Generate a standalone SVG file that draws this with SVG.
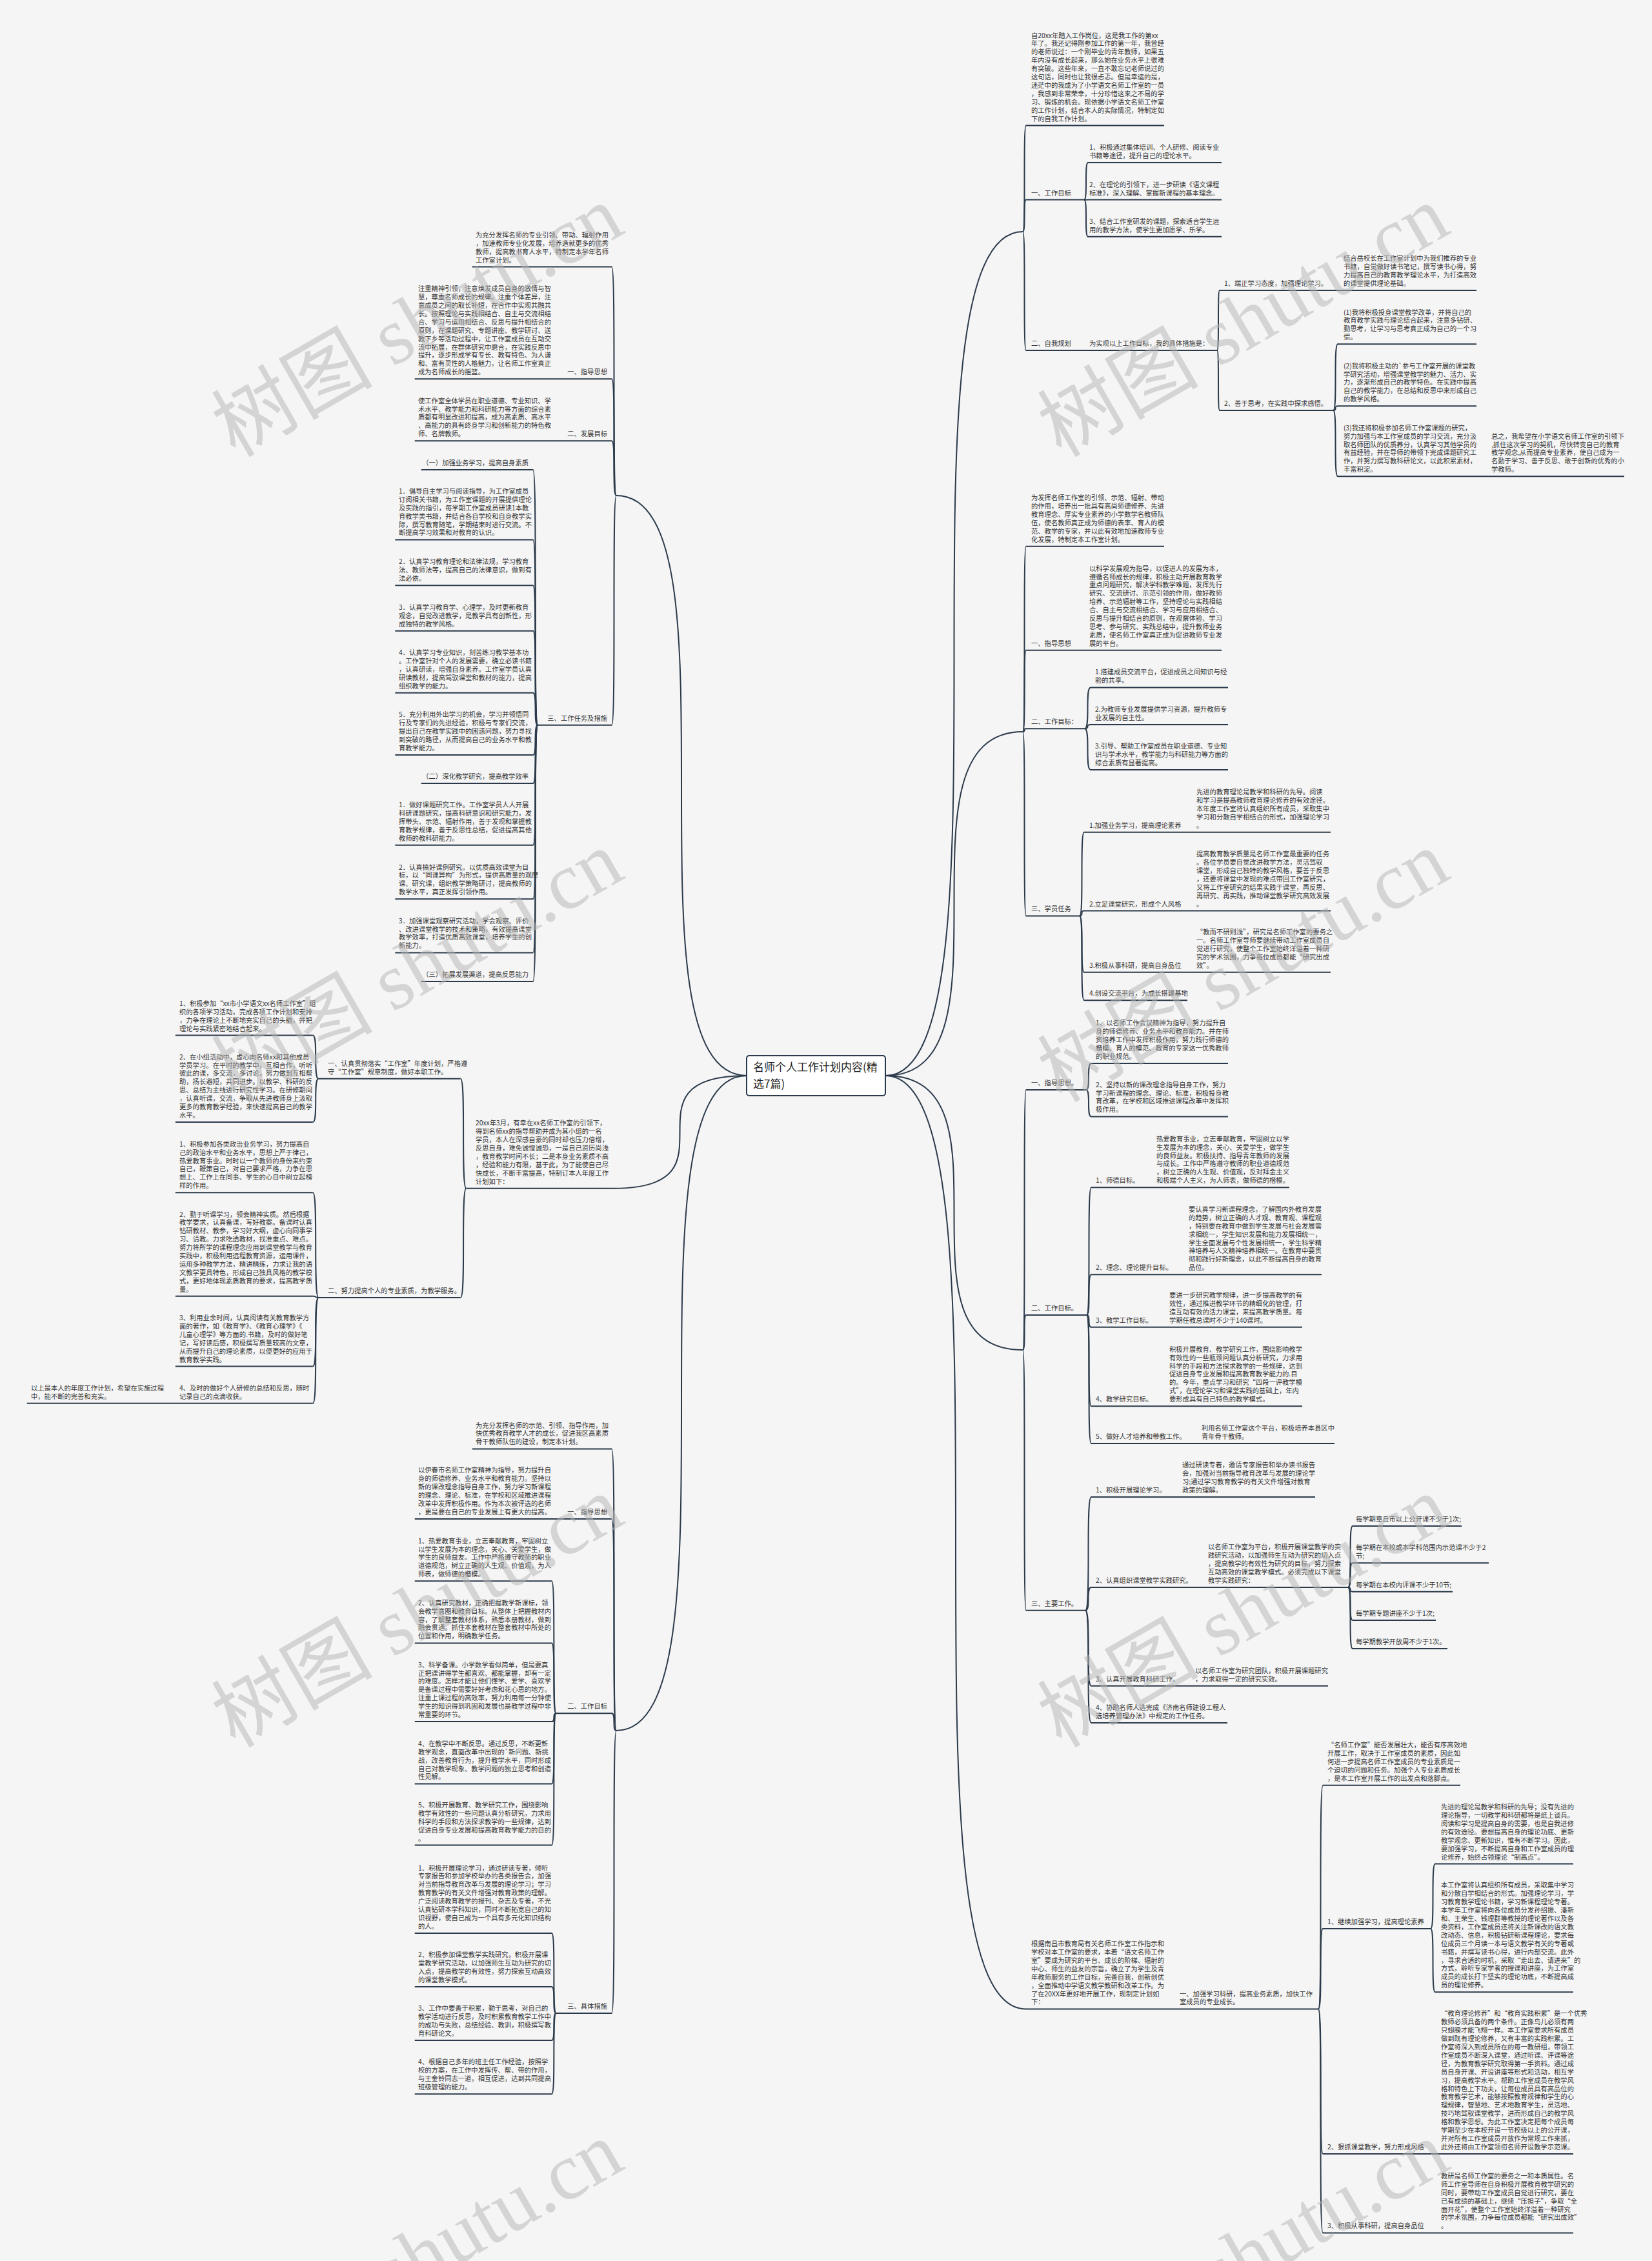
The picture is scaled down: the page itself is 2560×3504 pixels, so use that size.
<svg xmlns="http://www.w3.org/2000/svg" width="2560" height="3504" viewBox="0 0 2560 3504">
<style>
.t{font-family:"Noto Sans CJK SC","Noto Sans",sans-serif;font-size:10.3px;fill:#333}
.e{text-anchor:end}
.ul{stroke:#2b3a4a;stroke-width:2;fill:none}
.ln{stroke:#2b3a4a;stroke-width:2;fill:none}
.ctr{font-family:"Noto Sans CJK SC","Noto Sans",sans-serif;font-size:17px;fill:#222}
.wm{font-family:"Liberation Serif","Noto Sans CJK SC",serif;font-size:125px;fill:#b4b4b4;fill-opacity:.5;text-anchor:middle}
</style>
<rect width="2560" height="3504" fill="#f5f5f5"/>
<g id="connectors">
<path class="ln" d="M1372 1667C1585 1667 1372 359 1585 359"/>
<path class="ln" d="M1372 1667C1585 1667 1372 1134 1585 1134"/>
<path class="ln" d="M1372 1667C1585 1667 1372 2092 1585 2092"/>
<path class="ln" d="M1372 1667C1590 1667 1372 3113.5 1590 3113.5"/>
<path class="ln" d="M1157 1667C955 1667 1157 768 955 768"/>
<path class="ln" d="M1157 1667C950 1667 1157 1841.8 950 1841.8"/>
<path class="ln" d="M1157 1667C955 1667 1157 2682 955 2682"/>
<path class="ln" d="M1585 359C1590 359 1585 194.6 1590 194.6"/>
<path class="ln" d="M1585 359C1590 359 1585 309.6 1590 309.6"/>
<path class="ln" d="M1585 359C1590 359 1585 543 1590 543"/>
<path class="ln" d="M1680 309.6C1686 309.6 1680 252.1 1686 252.1"/>
<path class="ln" d="M1680 309.6H1686"/>
<path class="ln" d="M1680 309.6C1686 309.6 1680 366.8 1686 366.8"/>
<path class="ln" d="M1886 543C1890 543 1886 450 1890 450"/>
<path class="ln" d="M1886 543C1890 543 1886 636 1890 636"/>
<path class="ln" d="M2066 636C2073 636 2066 533.3 2073 533.3"/>
<path class="ln" d="M2066 636C2073 636 2066 629.3 2073 629.3"/>
<path class="ln" d="M2066 636C2073 636 2066 738.3 2073 738.3"/>
<path class="ln" d="M1585 1134C1590 1134 1585 846.8 1590 846.8"/>
<path class="ln" d="M1585 1134C1590 1134 1585 1007.8 1590 1007.8"/>
<path class="ln" d="M1585 1134C1590 1134 1585 1129.2 1590 1129.2"/>
<path class="ln" d="M1585 1134C1590 1134 1585 1419.5 1590 1419.5"/>
<path class="ln" d="M1681 1129.2C1690 1129.2 1681 1065.4 1690 1065.4"/>
<path class="ln" d="M1681 1129.2C1690 1129.2 1681 1122.9 1690 1122.9"/>
<path class="ln" d="M1681 1129.2C1690 1129.2 1681 1193 1690 1193"/>
<path class="ln" d="M1673 1419.5C1680 1419.5 1673 1289.7 1680 1289.7"/>
<path class="ln" d="M1673 1419.5C1680 1419.5 1673 1411.6 1680 1411.6"/>
<path class="ln" d="M1673 1419.5C1680 1419.5 1673 1506.8 1680 1506.8"/>
<path class="ln" d="M1673 1419.5C1680 1419.5 1673 1550.2 1680 1550.2"/>
<path class="ln" d="M1585 2092C1590 2092 1585 1689 1590 1689"/>
<path class="ln" d="M1585 2092C1590 2092 1585 2038.1 1590 2038.1"/>
<path class="ln" d="M1585 2092C1590 2092 1585 2495.7 1590 2495.7"/>
<path class="ln" d="M1683 1689C1691 1689 1683 1648 1691 1648"/>
<path class="ln" d="M1683 1689C1691 1689 1683 1730.4 1691 1730.4"/>
<path class="ln" d="M1684 2038.1C1691 2038.1 1684 1840.3 1691 1840.3"/>
<path class="ln" d="M1684 2038.1C1691 2038.1 1684 1975.3 1691 1975.3"/>
<path class="ln" d="M1684 2038.1C1691 2038.1 1684 2056.8 1691 2056.8"/>
<path class="ln" d="M1684 2038.1C1691 2038.1 1684 2179.2 1691 2179.2"/>
<path class="ln" d="M1684 2038.1C1691 2038.1 1684 2237 1691 2237"/>
<path class="ln" d="M1682 2495.7C1691 2495.7 1682 2320 1691 2320"/>
<path class="ln" d="M1682 2495.7C1691 2495.7 1682 2460 1691 2460"/>
<path class="ln" d="M1682 2495.7C1691 2495.7 1682 2612.7 1691 2612.7"/>
<path class="ln" d="M1682 2495.7C1691 2495.7 1682 2670 1691 2670"/>
<path class="ln" d="M2089 2460C2096 2460 2089 2365 2096 2365"/>
<path class="ln" d="M2089 2460C2096 2460 2089 2422.3 2096 2422.3"/>
<path class="ln" d="M2089 2460C2096 2460 2089 2466.7 2096 2466.7"/>
<path class="ln" d="M2089 2460C2096 2460 2089 2511 2096 2511"/>
<path class="ln" d="M2089 2460C2096 2460 2089 2555 2096 2555"/>
<path class="ln" d="M2043 3113.5C2050 3113.5 2043 2766.7 2050 2766.7"/>
<path class="ln" d="M2043 3113.5C2050 3113.5 2043 2989 2050 2989"/>
<path class="ln" d="M2043 3113.5C2050 3113.5 2043 3337.9 2050 3337.9"/>
<path class="ln" d="M2043 3113.5C2050 3113.5 2043 3460.4 2050 3460.4"/>
<path class="ln" d="M2217 2989C2224 2989 2217 2888.6 2224 2888.6"/>
<path class="ln" d="M2217 2989C2224 2989 2217 3087.3 2224 3087.3"/>
<path class="ln" d="M955 768C948 768 955 413.6 948 413.6"/>
<path class="ln" d="M955 768C948 768 955 587.3 948 587.3"/>
<path class="ln" d="M955 768C948 768 955 683.3 948 683.3"/>
<path class="ln" d="M955 768C948 768 955 1123.8 948 1123.8"/>
<path class="ln" d="M833.3 1123.8C826 1123.8 833.3 728 826 728"/>
<path class="ln" d="M833.3 1123.8C826 1123.8 833.3 836.5 826 836.5"/>
<path class="ln" d="M833.3 1123.8C826 1123.8 833.3 907.2 826 907.2"/>
<path class="ln" d="M833.3 1123.8C826 1123.8 833.3 977.8 826 977.8"/>
<path class="ln" d="M833.3 1123.8C826 1123.8 833.3 1073.8 826 1073.8"/>
<path class="ln" d="M833.3 1123.8C826 1123.8 833.3 1170.1 826 1170.1"/>
<path class="ln" d="M833.3 1123.8C826 1123.8 833.3 1214.1 826 1214.1"/>
<path class="ln" d="M833.3 1123.8C826 1123.8 833.3 1309.7 826 1309.7"/>
<path class="ln" d="M833.3 1123.8C826 1123.8 833.3 1393.3 826 1393.3"/>
<path class="ln" d="M833.3 1123.8C826 1123.8 833.3 1476.4 826 1476.4"/>
<path class="ln" d="M833.3 1123.8C826 1123.8 833.3 1521 826 1521"/>
<path class="ln" d="M722.5 1841.8C713.7 1841.8 722.5 1671.8 713.7 1671.8"/>
<path class="ln" d="M722.5 1841.8C713.7 1841.8 722.5 2010.9 713.7 2010.9"/>
<path class="ln" d="M493.6 1671.8C484.8 1671.8 493.6 1604.6 484.8 1604.6"/>
<path class="ln" d="M493.6 1671.8C484.8 1671.8 493.6 1739 484.8 1739"/>
<path class="ln" d="M493.6 2010.9C484.8 2010.9 493.6 1848.3 484.8 1848.3"/>
<path class="ln" d="M493.6 2010.9C484.8 2010.9 493.6 2008.7 484.8 2008.7"/>
<path class="ln" d="M493.6 2010.9C484.8 2010.9 493.6 2117.6 484.8 2117.6"/>
<path class="ln" d="M493.6 2010.9C484.8 2010.9 493.6 2174.8 484.8 2174.8"/>
<path class="ln" d="M955 2682C948 2682 955 2245.4 948 2245.4"/>
<path class="ln" d="M955 2682C948 2682 955 2353.9 948 2353.9"/>
<path class="ln" d="M955 2682C948 2682 955 2655.3 948 2655.3"/>
<path class="ln" d="M955 2682C948 2682 955 3119.9 948 3119.9"/>
<path class="ln" d="M861.7 2655.3C855 2655.3 861.7 2450.3 855 2450.3"/>
<path class="ln" d="M861.7 2655.3C855 2655.3 861.7 2546.4 855 2546.4"/>
<path class="ln" d="M861.7 2655.3C855 2655.3 861.7 2668.1 855 2668.1"/>
<path class="ln" d="M861.7 2655.3C855 2655.3 861.7 2764.5 855 2764.5"/>
<path class="ln" d="M861.7 2655.3C855 2655.3 861.7 2859.6 855 2859.6"/>
<path class="ln" d="M861.7 3119.9C855 3119.9 861.7 2995.9 855 2995.9"/>
<path class="ln" d="M861.7 3119.9C855 3119.9 861.7 3079.1 855 3079.1"/>
<path class="ln" d="M861.7 3119.9C855 3119.9 861.7 3161.9 855 3161.9"/>
<path class="ln" d="M861.7 3119.9C855 3119.9 861.7 3245.2 855 3245.2"/>
</g>

<g id="center">
<rect x="1157" y="1636" width="215" height="62" rx="4" fill="#ffffff" stroke="#2b3a4a" stroke-width="2"/>
<text class="ctr"><tspan x="1167" y="1660">名师个人工作计划内容(精</tspan><tspan x="1167" y="1686">选7篇)</tspan></text>
</g>

<!-- R1 -->
<g id="r1-intro"><path class="ul" d="M1590 194.6H1804"/><text class="t"><tspan x="1598" y="58.5">自20xx年踏入工作岗位，这是我工作的第xx</tspan><tspan x="1598" y="71.4">年了。我还记得刚参加工作的第一年，我曾经</tspan><tspan x="1598" y="84.3">的老师说过：一个刚毕业的青年教师，如果五</tspan><tspan x="1598" y="97.2">年内没有成长起来，那么她在业务水平上很难</tspan><tspan x="1598" y="110.1">有突破。这些年来，一直不敢忘记老师说过的</tspan><tspan x="1598" y="123">这句话，同时也让我很忐忑。但是幸运的是，</tspan><tspan x="1598" y="135.9">迷茫中的我成为了小学语文名师工作室的一员</tspan><tspan x="1598" y="148.8">，我感到非常荣幸，十分珍惜这来之不易的学</tspan><tspan x="1598" y="161.7">习、锻炼的机会。现依据小学语文名师工作室</tspan><tspan x="1598" y="174.6">的工作计划，结合本人的实际情况，特制定如</tspan><tspan x="1598" y="187.5">下的自我工作计划。</tspan></text></g>
<g id="r1-s1"><path class="ul" d="M1590 309.6H1680"/><text class="t" x="1598" y="302.5">一、工作目标</text></g>
<g id="r1-s1-1"><path class="ul" d="M1686 252.1H1893"/><text class="t"><tspan x="1688" y="232.1">1、积极通过集体培训、个人研修、阅读专业</tspan><tspan x="1688" y="245">书籍等途径，提升自己的理论水平。</tspan></text></g>
<g id="r1-s1-2"><path class="ul" d="M1686 309.6H1893"/><text class="t"><tspan x="1688" y="289.6">2、在理论的引领下，进一步研读《语文课程</tspan><tspan x="1688" y="302.5">标准》，深入理解、掌握新课程的基本理念。</tspan></text></g>
<g id="r1-s1-3"><path class="ul" d="M1686 366.8H1893"/><text class="t"><tspan x="1688" y="346.8">3、结合工作室研发的课题，探索适合学生运</tspan><tspan x="1688" y="359.7">用的教学方法，使学生更加愿学、乐学。</tspan></text></g>
<g id="r1-s2"><path class="ul" d="M1590 543H1680"/><text class="t" x="1598" y="535.9">二、自我规划</text></g>
<g id="r1-s2-a"><path class="ul" d="M1680 543H1886"/><text class="t" x="1688" y="535.9">为实现以上工作目标，我的具体措施是：</text></g>
<g id="r1-s2-1"><path class="ul" d="M1890 450H2073"/><text class="t" x="1897" y="442.9">1、端正学习态度，加强理论学习。</text></g>
<g id="r1-s2-1a"><path class="ul" d="M2073 450H2288"/><text class="t"><tspan x="2082" y="404.2">结合岳校长在工作室计划中为我们推荐的专业</tspan><tspan x="2082" y="417.1">书籍，自觉做好读书笔记，撰写读书心得，努</tspan><tspan x="2082" y="430">力提高自己的教育教学理论水平，为打造高效</tspan><tspan x="2082" y="442.9">的课堂提供理论基础。</tspan></text></g>
<g id="r1-s2-2"><path class="ul" d="M1890 636H2066"/><text class="t" x="1897" y="628.9">2、善于思考，在实践中探求感悟。</text></g>
<g id="r1-s2-2a"><path class="ul" d="M2073 533.3H2288"/><text class="t"><tspan x="2082" y="487.5">(1)我将积极投身课堂教学改革，并将自己的</tspan><tspan x="2082" y="500.4">教育教学实践与理论结合起来，注意多钻研、</tspan><tspan x="2082" y="513.3">勤思考，让学习与思考真正成为自己的一个习</tspan><tspan x="2082" y="526.2">惯。</tspan></text></g>
<g id="r1-s2-2b"><path class="ul" d="M2073 629.3H2288"/><text class="t"><tspan x="2082" y="570.6">(2)我将积极主动的`参与工作室开展的课堂教</tspan><tspan x="2082" y="583.5">学研究活动，增强课堂教学的魅力、活力、实</tspan><tspan x="2082" y="596.4">力，逐渐形成自己的教学特色。在实践中提高</tspan><tspan x="2082" y="609.3">自己的教学能力，在总结和反思中来形成自己</tspan><tspan x="2082" y="622.2">的教学风格。</tspan></text></g>
<g id="r1-s2-2c"><path class="ul" d="M2073 738.3H2288"/><text class="t"><tspan x="2082" y="666.7">(3)我还将积极参加名师工作室课题的研究，</tspan><tspan x="2082" y="679.6">努力加强与本工作室成员的学习交流，充分汲</tspan><tspan x="2082" y="692.5">取名师团队的优质养分，认真学习其他学员的</tspan><tspan x="2082" y="705.4">有益经验，并在导师的带领下完成课题研究工</tspan><tspan x="2082" y="718.3">作，并努力撰写教科研论文，以此积累素材，</tspan><tspan x="2082" y="731.2">丰富积淀。</tspan></text></g>
<g id="r1-end"><path class="ul" d="M2288 738.3H2517"/><text class="t"><tspan x="2311" y="679.6">总之，我希望在小学语文名师工作室的引领下</tspan><tspan x="2311" y="692.5">,抓住这次学习的契机，尽快转变自己的教育</tspan><tspan x="2311" y="705.4">教学观念,从而提高专业素养，使自己成为一</tspan><tspan x="2311" y="718.3">名勤于学习、善于反思、敢于创新的优秀的小</tspan><tspan x="2311" y="731.2">学教师。</tspan></text></g>

<!-- R2 -->
<g id="r2-intro"><path class="ul" d="M1590 846.8H1804"/><text class="t"><tspan x="1598" y="775.2">为发挥名师工作室的引领、示范、辐射、带动</tspan><tspan x="1598" y="788.1">的作用，培养出一批具有高尚师德修养、先进</tspan><tspan x="1598" y="801">教育理念、厚实专业素养的小学数学名教师队</tspan><tspan x="1598" y="813.9">伍，使名教师真正成为师德的表率、育人的模</tspan><tspan x="1598" y="826.8">范、教学的专家，并以此有效地加速教师专业</tspan><tspan x="1598" y="839.7">化发展，特制定本工作室计划。</tspan></text></g>
<g id="r2-s1"><path class="ul" d="M1590 1007.8H1680"/><text class="t" x="1598" y="1000.7">一、指导思想</text></g>
<g id="r2-s1-a"><path class="ul" d="M1680 1007.8H1893"/><text class="t"><tspan x="1688" y="884.6">以科学发展观为指导，以促进人的发展为本，</tspan><tspan x="1688" y="897.5">遵循名师成长的规律，积极主动开展教育教学</tspan><tspan x="1688" y="910.4">重点问题研究，解决学科教学难题，发挥先行</tspan><tspan x="1688" y="923.3">研究、交流研讨、示范引领的作用，做好教师</tspan><tspan x="1688" y="936.2">培养、示范辐射等工作，坚持理论与实践相结</tspan><tspan x="1688" y="949.1">合、自主与交流相结合、学习与应用相结合、</tspan><tspan x="1688" y="962">反思与提升相结合的原则，在观察体验、学习</tspan><tspan x="1688" y="974.9">思考、参与研究、实践总结中，提升教师业务</tspan><tspan x="1688" y="987.8">素质，使名师工作室真正成为促进教师专业发</tspan><tspan x="1688" y="1000.7">展的平台。</tspan></text></g>
<g id="r2-s2"><path class="ul" d="M1590 1129.2H1681"/><text class="t" x="1598" y="1122.1">二、工作目标：</text></g>
<g id="r2-s2-1"><path class="ul" d="M1690 1065.4H1903"/><text class="t"><tspan x="1697" y="1045.4">1.搭建成员交流平台，促进成员之间知识与经</tspan><tspan x="1697" y="1058.3">验的共享。</tspan></text></g>
<g id="r2-s2-2"><path class="ul" d="M1690 1122.9H1903"/><text class="t"><tspan x="1697" y="1102.9">2.为教师专业发展提供学习资源，提升教师专</tspan><tspan x="1697" y="1115.8">业发展的自主性。</tspan></text></g>
<g id="r2-s2-3"><path class="ul" d="M1690 1193H1903"/><text class="t"><tspan x="1697" y="1160.2">3.引导、帮助工作室成员在职业道德、专业知</tspan><tspan x="1697" y="1173.1">识与学术水平，教学能力与科研能力等方面的</tspan><tspan x="1697" y="1186">综合素质有显著提高。</tspan></text></g>
<g id="r2-s3"><path class="ul" d="M1590 1419.5H1673"/><text class="t" x="1598" y="1412.4">三、学员任务</text></g>
<g id="r2-s3-1"><path class="ul" d="M1680 1289.7H1848"/><text class="t" x="1688" y="1282.6">1.加强业务学习，提高理论素养</text></g>
<g id="r2-s3-1a"><path class="ul" d="M1848 1289.7H2062"/><text class="t"><tspan x="1854" y="1231">先进的教育理论是教学和科研的先导。阅读</tspan><tspan x="1854" y="1243.9">和学习是提高教师教育理论修养的有效途径。</tspan><tspan x="1854" y="1256.8">本年度工作室将认真组织所有成员，采取集中</tspan><tspan x="1854" y="1269.7">学习和分散自学相结合的形式，加强理论学习</tspan><tspan x="1854" y="1282.6">。</tspan></text></g>
<g id="r2-s3-2"><path class="ul" d="M1680 1411.6H1848"/><text class="t" x="1688" y="1404.5">2.立足课堂研究，形成个人风格</text></g>
<g id="r2-s3-2a"><path class="ul" d="M1848 1411.6H2062"/><text class="t"><tspan x="1854" y="1327.1">提高教育教学质量是名师工作室最重要的任务</tspan><tspan x="1854" y="1340">。各位学员要自觉改进教学方法，灵活驾驭</tspan><tspan x="1854" y="1352.9">课堂，形成自己独特的教学风格，要善于反思</tspan><tspan x="1854" y="1365.8">，还要将课堂中发现的难点带回工作室研究，</tspan><tspan x="1854" y="1378.7">又将工作室研究的结果实践于课堂，再反思、</tspan><tspan x="1854" y="1391.6">再研究、再实践，推动课堂教学研究高效发展</tspan><tspan x="1854" y="1404.5">。</tspan></text></g>
<g id="r2-s3-3"><path class="ul" d="M1680 1506.8H1848"/><text class="t" x="1688" y="1499.7">3.积极从事科研，提高自身品位</text></g>
<g id="r2-s3-3a"><path class="ul" d="M1848 1506.8H2062"/><text class="t"><tspan x="1854" y="1448.1">“教而不研则浅”，研究是名师工作室的要务之</tspan><tspan x="1854" y="1461">一。名师工作室导师要继续带动工作室成员自</tspan><tspan x="1854" y="1473.9">觉进行研究，使整个工作室始终洋溢着一种研</tspan><tspan x="1854" y="1486.8">究的学术氛围，力争每位成员都能“研究出成</tspan><tspan x="1854" y="1499.7">效”。</tspan></text></g>
<g id="r2-s3-4"><path class="ul" d="M1680 1550.2H1840"/><text class="t" x="1688" y="1543.1">4.创设交流平台，为成长搭建基地</text></g>

<!-- R3 -->
<g id="r3-s1"><path class="ul" d="M1590 1689H1683"/><text class="t" x="1598" y="1681.9">一、指导思想。</text></g>
<g id="r3-s1-1"><path class="ul" d="M1691 1648H1903"/><text class="t"><tspan x="1698" y="1589.3">1、以名师工作会议精神为指导，努力提升自</tspan><tspan x="1698" y="1602.2">身的师德修养、业务水平和教育能力。并在师</tspan><tspan x="1698" y="1615.1">资培养工作中发挥积极作用，努力践行师德的</tspan><tspan x="1698" y="1628">楷模、育人的模范、教育的专家这一优秀教师</tspan><tspan x="1698" y="1640.9">的职业规范。</tspan></text></g>
<g id="r3-s1-2"><path class="ul" d="M1691 1730.4H1903"/><text class="t"><tspan x="1698" y="1684.6">2、坚持以新的课改理念指导自身工作，努力</tspan><tspan x="1698" y="1697.5">学习新课程的理念、理论、标准，积极投身教</tspan><tspan x="1698" y="1710.4">育改革，在学校和区域推进课程改革中发挥积</tspan><tspan x="1698" y="1723.3">极作用。</tspan></text></g>
<g id="r3-s2"><path class="ul" d="M1590 2038.1H1684"/><text class="t" x="1598" y="2031">二、工作目标。</text></g>
<g id="r3-s2-1"><path class="ul" d="M1691 1840.3H1785"/><text class="t" x="1698" y="1833.2">1、师德目标。</text></g>
<g id="r3-s2-1a"><path class="ul" d="M1785 1840.3H1998"/><text class="t"><tspan x="1792" y="1768.7">热爱教育事业，立志奉献教育，牢固树立以学</tspan><tspan x="1792" y="1781.6">生发展为本的理念，关心、关爱学生，做学生</tspan><tspan x="1792" y="1794.5">的良师益友。积极扶持、指导青年教师的发展</tspan><tspan x="1792" y="1807.4">与成长。工作中严格遵守教师的职业道德规范</tspan><tspan x="1792" y="1820.3">，树立正确的人生观、价值观，反对拜金主义</tspan><tspan x="1792" y="1833.2">和极端个人主义，为人师表，做师德的楷模。</tspan></text></g>
<g id="r3-s2-2"><path class="ul" d="M1691 1975.3H1835"/><text class="t" x="1698" y="1968.2">2、理念、理论提升目标。</text></g>
<g id="r3-s2-2a"><path class="ul" d="M1835 1975.3H2048"/><text class="t"><tspan x="1842" y="1877.9">要认真学习新课程理念，了解国内外教育发展</tspan><tspan x="1842" y="1890.8">的趋势，树立正确的人才观、教育观、课程观</tspan><tspan x="1842" y="1903.7">，特别要在教育中做到学生发展与社会发展需</tspan><tspan x="1842" y="1916.6">求相统一，学生知识发展和能力发展相统一，</tspan><tspan x="1842" y="1929.5">学生全面发展与个性发展相统一，学生科学精</tspan><tspan x="1842" y="1942.4">神培养与人文精神培养相统一。在教育中要贯</tspan><tspan x="1842" y="1955.3">彻和践行好新理念，以此不断提高自身的教育</tspan><tspan x="1842" y="1968.2">品位。</tspan></text></g>
<g id="r3-s2-3"><path class="ul" d="M1691 2056.8H1805"/><text class="t" x="1698" y="2049.7">3、教学工作目标。</text></g>
<g id="r3-s2-3a"><path class="ul" d="M1805 2056.8H2018"/><text class="t"><tspan x="1812" y="2011">要进一步研究教学规律，进一步提高教学的有</tspan><tspan x="1812" y="2023.9">效性，通过推进教学环节的精细化的管理，打</tspan><tspan x="1812" y="2036.8">造互动有效的活力课堂，来提高教学质量。每</tspan><tspan x="1812" y="2049.7">学期任教总课时不少于140课时。</tspan></text></g>
<g id="r3-s2-4"><path class="ul" d="M1691 2179.2H1805"/><text class="t" x="1698" y="2172.1">4、教学研究目标。</text></g>
<g id="r3-s2-4a"><path class="ul" d="M1805 2179.2H2018"/><text class="t"><tspan x="1812" y="2094.7">积极开展教育、教学研究工作，围绕影响教学</tspan><tspan x="1812" y="2107.6">有效性的一些瓶颈问题认真分析研究，力求用</tspan><tspan x="1812" y="2120.5">科学的手段和方法探求教学的一些规律，达到</tspan><tspan x="1812" y="2133.4">促进自身专业发展和提高教育教学能力的.目</tspan><tspan x="1812" y="2146.3">的。今年，重点学习和研究“四段一评教学模</tspan><tspan x="1812" y="2159.2">式”，在理论学习和课堂实践的基础上，年内</tspan><tspan x="1812" y="2172.1">要形成具有自己特色的教学模式。</tspan></text></g>
<g id="r3-s2-5"><path class="ul" d="M1691 2237H1855"/><text class="t" x="1698" y="2229.9">5、做好人才培养和带教工作。</text></g>
<g id="r3-s2-5a"><path class="ul" d="M1855 2237H2068"/><text class="t"><tspan x="1862" y="2217">利用名师工作室这个平台，积极培养本县区中</tspan><tspan x="1862" y="2229.9">青年骨干教师。</tspan></text></g>
<g id="r3-s3"><path class="ul" d="M1590 2495.7H1682"/><text class="t" x="1598" y="2488.6">三、主要工作。</text></g>
<g id="r3-s3-1"><path class="ul" d="M1691 2320H1825"/><text class="t" x="1698" y="2312.9">1、积极开展理论学习。</text></g>
<g id="r3-s3-1a"><path class="ul" d="M1825 2320H2038"/><text class="t"><tspan x="1832" y="2274.2">通过研读专着，邀请专家报告和举办读书报告</tspan><tspan x="1832" y="2287.1">会，加强对当前指导教育改革与发展的理论学</tspan><tspan x="1832" y="2300">习;通过学习教育教学的有关文件增强对教育</tspan><tspan x="1832" y="2312.9">政策的理解。</tspan></text></g>
<g id="r3-s3-2"><path class="ul" d="M1691 2460H1865"/><text class="t" x="1698" y="2452.9">2、认真组织课堂教学实践研究。</text></g>
<g id="r3-s3-2a"><path class="ul" d="M1865 2460H2089"/><text class="t"><tspan x="1872" y="2401.3">以名师工作室为平台，积极开展课堂教学的实</tspan><tspan x="1872" y="2414.2">践研究活动，以加强师生互动为研究的切入点</tspan><tspan x="1872" y="2427.1">，提高教学的有效性为研究的目标，努力探索</tspan><tspan x="1872" y="2440">互动高效的课堂教学模式。必须完成以下课堂</tspan><tspan x="1872" y="2452.9">教学实践研究：</tspan></text></g>
<g id="r3-s3-2-1"><path class="ul" d="M2096 2365H2265"/><text class="t" x="2101" y="2357.9">每学期章丘市以上公开课不少于1次;</text></g>
<g id="r3-s3-2-2"><path class="ul" d="M2096 2422.3H2307"/><text class="t"><tspan x="2101" y="2402.3">每学期在本校或本学科范围内示范课不少于2</tspan><tspan x="2101" y="2415.2">节;</tspan></text></g>
<g id="r3-s3-2-3"><path class="ul" d="M2096 2466.7H2251"/><text class="t" x="2101" y="2459.6">每学期在本校内评课不少于10节;</text></g>
<g id="r3-s3-2-4"><path class="ul" d="M2096 2511H2225"/><text class="t" x="2101" y="2503.9">每学期专题讲座不少于1次;</text></g>
<g id="r3-s3-2-5"><path class="ul" d="M2096 2555H2243"/><text class="t" x="2101" y="2547.9">每学期教学开放周不少于1次。</text></g>
<g id="r3-s3-3"><path class="ul" d="M1691 2612.7H1845"/><text class="t" x="1698" y="2605.6">3、认真开展教育科研工作。</text></g>
<g id="r3-s3-3a"><path class="ul" d="M1845 2612.7H2058"/><text class="t"><tspan x="1852" y="2592.7">以名师工作室为研究团队，积极开展课题研究</tspan><tspan x="1852" y="2605.6">，力求取得一定的研究实效。</tspan></text></g>
<g id="r3-s3-4"><path class="ul" d="M1691 2670H1902"/><text class="t"><tspan x="1698" y="2650">4、协助名师人选完成《济南名师建设工程人</tspan><tspan x="1698" y="2662.9">选培养管理办法》中规定的工作任务。</tspan></text></g>

<!-- R4 -->
<g id="r4-intro"><path class="ul" d="M1590 3113.5H1820"/><text class="t"><tspan x="1598" y="3016.1">根据南昌市教育局有关名师工作室工作指示和</tspan><tspan x="1598" y="3029">学校对本工作室的要求，本着“语文名师工作</tspan><tspan x="1598" y="3041.9">室”要成为研究的平台、成长的阶梯、辐射的</tspan><tspan x="1598" y="3054.8">中心、师生的益友的宗旨，确立了为学生及青</tspan><tspan x="1598" y="3067.7">年教师服务的工作目标，完善自我，创新创优</tspan><tspan x="1598" y="3080.6">，全面推动中学语文教学教研和改革工作。为</tspan><tspan x="1598" y="3093.5">了在20XX年更好地开展工作，现制定计划如</tspan><tspan x="1598" y="3106.4">下：</tspan></text></g>
<g id="r4-s1"><path class="ul" d="M1820 3113.5H2043"/><text class="t"><tspan x="1828" y="3093.5">一、加强学习科研，提高业务素质，加快工作</tspan><tspan x="1828" y="3106.4">室成员的专业成长。</tspan></text></g>
<g id="r4-s1-0"><path class="ul" d="M2050 2766.7H2263"/><text class="t"><tspan x="2057" y="2708">“名师工作室”能否发展壮大，能否有序高效地</tspan><tspan x="2057" y="2720.9">开展工作，取决于工作室成员的素质，因此如</tspan><tspan x="2057" y="2733.8">何进一步提高名师工作室成员的专业素质是一</tspan><tspan x="2057" y="2746.7">个迫切的问题和任务。加强个人专业素质成长</tspan><tspan x="2057" y="2759.6">，是本工作室开展工作的出发点和落脚点。</tspan></text></g>
<g id="r4-s1-1"><path class="ul" d="M2050 2989H2217"/><text class="t" x="2057" y="2981.9">1、继续加强学习，提高理论素养</text></g>
<g id="r4-s1-1a"><path class="ul" d="M2224 2888.6H2438"/><text class="t"><tspan x="2233" y="2804.1">先进的理论是教学和科研的先导；没有先进的</tspan><tspan x="2233" y="2817">理论指导，一切教学和科研都将是纸上谈兵。</tspan><tspan x="2233" y="2829.9">阅读和学习是提高自身的需要，也是自我进修</tspan><tspan x="2233" y="2842.8">的有效途径。要想提高自身的理论功底、更新</tspan><tspan x="2233" y="2855.7">教学观念、更新知识，惟有不断学习。因此，</tspan><tspan x="2233" y="2868.6">要加强学习，不断提高自身和工作室成员的理</tspan><tspan x="2233" y="2881.5">论修养，始终占领理论“制高点”。</tspan></text></g>
<g id="r4-s1-1b"><path class="ul" d="M2224 3087.3H2438"/><text class="t"><tspan x="2233" y="2925.4">本工作室将认真组织所有成员，采取集中学习</tspan><tspan x="2233" y="2938.3">和分散自学相结合的形式。加强理论学习，学</tspan><tspan x="2233" y="2951.2">习教育教学理论书籍，学习新课程理论专著。</tspan><tspan x="2233" y="2964.1">本学年工作室将向各位成员分发孙绍振、潘新</tspan><tspan x="2233" y="2977">和、王荣生、钱理群等教授的理论著作以及各</tspan><tspan x="2233" y="2989.9">类资料，工作室成员还将关注新课改的语文教</tspan><tspan x="2233" y="3002.8">改动态、信息，积极钻研新课程理论，要求每</tspan><tspan x="2233" y="3015.7">位成员三个月读一本与语文教学有关的专著或</tspan><tspan x="2233" y="3028.6">书籍，并撰写读书心得，进行内部交流。此外</tspan><tspan x="2233" y="3041.5">，寻求合适的时机，采取“走出去、请进来”的</tspan><tspan x="2233" y="3054.4">方式，聆听专家学者的授课和讲座，为工作室</tspan><tspan x="2233" y="3067.3">成员的成长打下坚实的理论功底，不断提高成</tspan><tspan x="2233" y="3080.2">员的理论修养。</tspan></text></g>
<g id="r4-s1-2"><path class="ul" d="M2050 3337.9H2224"/><text class="t" x="2057" y="3330.8">2、狠抓课堂教学，努力形成风格</text></g>
<g id="r4-s1-2a"><path class="ul" d="M2224 3337.9H2438"/><text class="t"><tspan x="2233" y="3124.4">“教育理论修养”和“教育实践积累”是一个优秀</tspan><tspan x="2233" y="3137.3">教师必须具备的两个条件。正像鸟儿必须有两</tspan><tspan x="2233" y="3150.2">只翅膀才能飞翔一样。本工作室要求所有成员</tspan><tspan x="2233" y="3163.1">做到既有理论修养，又有丰富的实践积累。工</tspan><tspan x="2233" y="3176">作室将深入到成员所在的每一教研组，带领工</tspan><tspan x="2233" y="3188.9">作室成员不断深入课堂，通过听课、评课等途</tspan><tspan x="2233" y="3201.8">径，为教育教学研究取得第一手资料。通过成</tspan><tspan x="2233" y="3214.7">员自身开课、开设讲座等形式和活动，相互学</tspan><tspan x="2233" y="3227.6">习，提高教学水平。帮助工作室成员在教学风</tspan><tspan x="2233" y="3240.5">格和特色上下功夫，让每位成员具有高品位的</tspan><tspan x="2233" y="3253.4">教育教学艺术，能够按照教育规律和学生的心</tspan><tspan x="2233" y="3266.3">理规律，智慧地、艺术地教育学生，灵活地、</tspan><tspan x="2233" y="3279.2">技巧地驾驭课堂教学，进而形成自己的教学风</tspan><tspan x="2233" y="3292.1">格和教学思想。为此工作室决定把每个成员每</tspan><tspan x="2233" y="3305">学期至少在本校开设一节校级以上的公开课，</tspan><tspan x="2233" y="3317.9">并对所有工作室成员开放作为常规工作来抓，</tspan><tspan x="2233" y="3330.8">此外还将由工作室领衔名师开设教学示范课。</tspan></text></g>
<g id="r4-s1-3"><path class="ul" d="M2050 3460.4H2224"/><text class="t" x="2057" y="3453.3">3、积极从事科研，提高自身品位</text></g>
<g id="r4-s1-3a"><path class="ul" d="M2224 3460.4H2438"/><text class="t"><tspan x="2233" y="3375.9">教研是名师工作室的要务之一和本质属性。名</tspan><tspan x="2233" y="3388.8">师工作室导师在自身积极开展教育教学研究的</tspan><tspan x="2233" y="3401.7">同时，要带动工作室成员自觉进行研究，要在</tspan><tspan x="2233" y="3414.6">已有成绩的基础上，继续“压担子”，争取“全</tspan><tspan x="2233" y="3427.5">面开花”，使整个工作室始终洋溢着一种研究</tspan><tspan x="2233" y="3440.4">的学术氛围，力争每位成员都能“研究出成效”</tspan><tspan x="2233" y="3453.3">。</tspan></text></g>

<!-- L1 -->
<g id="l1-intro"><path class="ul" d="M731.7 413.6H948"/><text class="t"><tspan x="737" y="367.8">为充分发挥名师的专业引领、带动、辐射作用</tspan><tspan x="737" y="380.7">，加速教师专业化发展，培养造就更多的优秀</tspan><tspan x="737" y="393.6">教师，提高教书育人水平，特制定本学年名师</tspan><tspan x="737" y="406.5">工作室计划。</tspan></text></g>
<g id="l1-s1"><path class="ul" d="M865 587.3H948"/><text class="t e" x="941" y="580.2">一、指导思想</text></g>
<g id="l1-s1-a"><path class="ul" d="M642.7 587.3H865"/><text class="t"><tspan x="648" y="451.2">注重精神引领，注意焕发成员自身的激情与智</tspan><tspan x="648" y="464.1">慧，尊重名师成长的规律。注重个体差异，注</tspan><tspan x="648" y="477">意成员之间的取长补短，在合作中实现共融共</tspan><tspan x="648" y="489.9">长。按照理论与实践相结合、自主与交流相结</tspan><tspan x="648" y="502.8">合、学习与运用相结合、反思与提升相结合的</tspan><tspan x="648" y="515.7">原则，在课题研究、专题讲座、教学研讨、送</tspan><tspan x="648" y="528.6">教下乡等活动过程中，让工作室成员在互动交</tspan><tspan x="648" y="541.5">流中拓展，在群体研究中磨合，在实践反思中</tspan><tspan x="648" y="554.4">提升，逐步形成学有专长、教有特色、为人谦</tspan><tspan x="648" y="567.3">和、富有灵性的人格魅力，让名师工作室真正</tspan><tspan x="648" y="580.2">成为名师成长的摇篮。</tspan></text></g>
<g id="l1-s2"><path class="ul" d="M865 683.3H948"/><text class="t e" x="941" y="676.2">二、发展目标</text></g>
<g id="l1-s2-a"><path class="ul" d="M642.7 683.3H865"/><text class="t"><tspan x="648" y="624.6">使工作室全体学员在职业道德、专业知识、学</tspan><tspan x="648" y="637.5">术水平、教学能力和科研能力等方面的综合素</tspan><tspan x="648" y="650.4">质都有明显改进和提高，成为高素质、高水平</tspan><tspan x="648" y="663.3">、高能力的具有终身学习和创新能力的特色教</tspan><tspan x="648" y="676.2">师、名牌教师。</tspan></text></g>
<g id="l1-s3"><path class="ul" d="M833.3 1123.8H948"/><text class="t e" x="941" y="1116.7">三、工作任务及措施</text></g>
<g id="l1-s3-a"><path class="ul" d="M652.7 728H826"/><text class="t e" x="819" y="720.9">（一）加强业务学习，提高自身素质</text></g>
<g id="l1-s3-b"><path class="ul" d="M612.3 836.5H826"/><text class="t"><tspan x="618" y="764.9">1．倡导自主学习与阅读指导，为工作室成员</tspan><tspan x="618" y="777.8">订阅相关书籍，为工作室课题的开展提供理论</tspan><tspan x="618" y="790.7">及实践的指引，每学期工作室成员研读1本教</tspan><tspan x="618" y="803.6">育教学类书籍，并结合各自学校和自身教学实</tspan><tspan x="618" y="816.5">际，撰写教育随笔，学期结束时进行交流。不</tspan><tspan x="618" y="829.4">断提高学习效果和对教育的认识。</tspan></text></g>
<g id="l1-s3-c"><path class="ul" d="M612.3 907.2H826"/><text class="t"><tspan x="618" y="874.3">2．认真学习教育理论和法律法规，学习教育</tspan><tspan x="618" y="887.2">法、教师法等，提高自己的法律意识，做到有</tspan><tspan x="618" y="900.1">法必依。</tspan></text></g>
<g id="l1-s3-d"><path class="ul" d="M612.3 977.8H826"/><text class="t"><tspan x="618" y="944.8">3．认真学习教育学、心理学，及时更新教育</tspan><tspan x="618" y="957.7">观念，自觉改进教学，是教学具有创新性，形</tspan><tspan x="618" y="970.6">成独特的教学风格。</tspan></text></g>
<g id="l1-s3-e"><path class="ul" d="M612.3 1073.8H826"/><text class="t"><tspan x="618" y="1015.1">4．认真学习专业知识，刻苦练习教学基本功</tspan><tspan x="618" y="1028">。工作室针对个人的发展需要，确立必读书籍</tspan><tspan x="618" y="1040.9">，认真研读，增强自身素养。工作室学员认真</tspan><tspan x="618" y="1053.8">研读教材，提高驾驭课堂和教材的能力，提高</tspan><tspan x="618" y="1066.7">组织教学的能力。</tspan></text></g>
<g id="l1-s3-f"><path class="ul" d="M612.3 1170.1H826"/><text class="t"><tspan x="618" y="1111.4">5．充分利用外出学习的机会，学习并领悟同</tspan><tspan x="618" y="1124.3">行及专家们的先进经验，积极与专家们交流，</tspan><tspan x="618" y="1137.2">提出自己在教学实践中的困惑问题，努力寻找</tspan><tspan x="618" y="1150.1">到突破的路径，从而提高自己的业务水平和教</tspan><tspan x="618" y="1163">育教学能力。</tspan></text></g>
<g id="l1-s3-g"><path class="ul" d="M652.7 1214.1H826"/><text class="t e" x="819" y="1207">（二）深化教学研究，提高教学效率</text></g>
<g id="l1-s3-h"><path class="ul" d="M612.3 1309.7H826"/><text class="t"><tspan x="618" y="1251">1．做好课题研究工作。工作室学员人人开展</tspan><tspan x="618" y="1263.9">科研课题研究，提高科研意识和研究能力，发</tspan><tspan x="618" y="1276.8">挥带头、示范、辐射作用，善于发现和掌握教</tspan><tspan x="618" y="1289.7">育教学规律，善于反思性总结，促进提高其他</tspan><tspan x="618" y="1302.6">教师的教科研能力。</tspan></text></g>
<g id="l1-s3-i"><path class="ul" d="M612.3 1393.3H826"/><text class="t"><tspan x="618" y="1347.5">2．认真搞好课例研究。以优质高效课堂为目</tspan><tspan x="618" y="1360.4">标，以“同课异构”为形式，提供高质量的观摩</tspan><tspan x="618" y="1373.3">课、研究课，组织教学策略研讨，提高教师的</tspan><tspan x="618" y="1386.2">教学水平，真正发挥引领作用。</tspan></text></g>
<g id="l1-s3-j"><path class="ul" d="M612.3 1476.4H826"/><text class="t"><tspan x="618" y="1430.6">3．加强课堂观察研究活动，学会观察、评价</tspan><tspan x="618" y="1443.5">、改进课堂教学的技术和策略，有效提高课堂</tspan><tspan x="618" y="1456.4">教学效率，打造优质高效课堂，培养学生的创</tspan><tspan x="618" y="1469.3">新能力。</tspan></text></g>
<g id="l1-s3-k"><path class="ul" d="M652.7 1521H826"/><text class="t e" x="819" y="1513.9">（三）拓展发展渠道，提高反思能力</text></g>

<!-- L2 -->
<g id="l2-intro"><path class="ul" d="M722.5 1841.8H950"/><text class="t"><tspan x="737" y="1744.4">20xx年3月，有幸在xx名师工作室的引领下，</tspan><tspan x="737" y="1757.3">得到名师xx的指导帮助并成为其小组的一名</tspan><tspan x="737" y="1770.2">学员，本人在深感自豪的同时却也压力倍增，</tspan><tspan x="737" y="1783.1">反思自身，难免诚惶诚恐，一是自己资历尚浅</tspan><tspan x="737" y="1796">，教育教学时间不长；二是本身业务素质不高</tspan><tspan x="737" y="1808.9">，经验和能力有限，基于此，为了能使自己尽</tspan><tspan x="737" y="1821.8">快成长，不断丰富提高，特制订本人年度工作</tspan><tspan x="737" y="1834.7">计划如下：</tspan></text></g>
<g id="l2-s1"><path class="ul" d="M493.6 1671.8H713.7"/><text class="t"><tspan x="508" y="1651.8">一、认真贯彻落实“工作室”年度计划，严格遵</tspan><tspan x="508" y="1664.7">守“工作室”规章制度，做好本职工作。</tspan></text></g>
<g id="l2-s1-1"><path class="ul" d="M271.8 1604.6H484.8"/><text class="t"><tspan x="278" y="1558.8">1、积极参加“xx市小学语文xx名师工作室”组</tspan><tspan x="278" y="1571.7">织的各项学习活动，完成各项工作计划和安排</tspan><tspan x="278" y="1584.6">，力争在理论上不断地充实自己的头脑，并把</tspan><tspan x="278" y="1597.5">理论与实践紧密地结合起来。</tspan></text></g>
<g id="l2-s1-2"><path class="ul" d="M271.8 1739H484.8"/><text class="t"><tspan x="278" y="1641.6">2、在小组活动中，虚心向名师xx和其他成员</tspan><tspan x="278" y="1654.5">学员学习。在平时的教学中，互相合作，听听</tspan><tspan x="278" y="1667.4">彼此的课，多交流，多讨论，努力做到互相帮</tspan><tspan x="278" y="1680.3">助，扬长避短，共同进步。以教学、科研的反</tspan><tspan x="278" y="1693.2">思、总结为主线进行研究性学习。在研修期间</tspan><tspan x="278" y="1706.1">，认真听课，交流，争取从先进教师身上汲取</tspan><tspan x="278" y="1719">更多的教育教学经验，来快速提高自己的教学</tspan><tspan x="278" y="1731.9">水平。</tspan></text></g>
<g id="l2-s2"><path class="ul" d="M493.6 2010.9H713.7"/><text class="t" x="508" y="2003.8">二、努力提高个人的专业素质，为教学服务。</text></g>
<g id="l2-s2-1"><path class="ul" d="M271.8 1848.3H484.8"/><text class="t"><tspan x="278" y="1776.7">1、积极参加各类政治业务学习，努力提高自</tspan><tspan x="278" y="1789.6">己的政治水平和业务水平，思想上严于律己，</tspan><tspan x="278" y="1802.5">热爱教育事业。时时以一个教师的身份来约束</tspan><tspan x="278" y="1815.4">自己，鞭策自己，对自己要求严格，力争在思</tspan><tspan x="278" y="1828.3">想上、工作上在同事、学生的心目中树立起榜</tspan><tspan x="278" y="1841.2">样的作用。</tspan></text></g>
<g id="l2-s2-2"><path class="ul" d="M271.8 2008.7H484.8"/><text class="t"><tspan x="278" y="1885.5">2、勤于听课学习，领会精神实质。然后根据</tspan><tspan x="278" y="1898.4">教学要求，认真备课，写好教案。备课时认真</tspan><tspan x="278" y="1911.3">钻研教材、教参，学习好大纲，虚心向同事学</tspan><tspan x="278" y="1924.2">习、请教。力求吃透教材，找准重点、难点。</tspan><tspan x="278" y="1937.1">努力将所学的课程理念应用到课堂教学与教育</tspan><tspan x="278" y="1950">实践中，积极利用远程教育资源，运用课件，</tspan><tspan x="278" y="1962.9">运用多种教学方法，精讲精练，力求让我的语</tspan><tspan x="278" y="1975.8">文教学更具特色，形成自己独具风格的教学模</tspan><tspan x="278" y="1988.7">式，更好地体现素质教育的要求，提高教学质</tspan><tspan x="278" y="2001.6">量。</tspan></text></g>
<g id="l2-s2-3"><path class="ul" d="M271.8 2117.6H484.8"/><text class="t"><tspan x="278" y="2046">3、利用业余时间，认真阅读有关教育教学方</tspan><tspan x="278" y="2058.9">面的著作，如《教育学》、《教育心理学》《</tspan><tspan x="278" y="2071.8">儿童心理学》等方面的.书籍，及时的做好笔</tspan><tspan x="278" y="2084.7">记，写好读后感，积极撰写质量较高的文章，</tspan><tspan x="278" y="2097.6">从而提升自己的理论素质，以便更好的应用于</tspan><tspan x="278" y="2110.5">教育教学实践。</tspan></text></g>
<g id="l2-s2-4"><path class="ul" d="M271.8 2174.8H484.8"/><text class="t"><tspan x="278" y="2154.8">4、及时的做好个人研修的总结和反思，随时</tspan><tspan x="278" y="2167.7">记录自己的点滴收获。</tspan></text></g>
<g id="l2-end"><path class="ul" d="M41.7 2174.8H271.8"/><text class="t"><tspan x="48" y="2154.8">以上是本人的年度工作计划，希望在实施过程</tspan><tspan x="48" y="2167.7">中，能不断的完善和充实。</tspan></text></g>

<!-- L3 -->
<g id="l3-intro"><path class="ul" d="M731.7 2245.4H948"/><text class="t"><tspan x="737" y="2212.5">为充分发挥名师的示范、引领、指导作用，加</tspan><tspan x="737" y="2225.4">快优秀教育教学人才的成长，促进我区高素质</tspan><tspan x="737" y="2238.3">骨干教师队伍的建设，制定本计划。</tspan></text></g>
<g id="l3-s1"><path class="ul" d="M865 2353.9H948"/><text class="t e" x="941" y="2346.8">一、指导思想</text></g>
<g id="l3-s1-a"><path class="ul" d="M642.7 2353.9H865"/><text class="t"><tspan x="648" y="2282.3">以伊春市名师工作室精神为指导，努力提升自</tspan><tspan x="648" y="2295.2">身的师德修养、业务水平和教育能力。坚持以</tspan><tspan x="648" y="2308.1">新的课改理念指导自身工作，努力学习新课程</tspan><tspan x="648" y="2321">的理念、理论、标准，在学校和区域推进课程</tspan><tspan x="648" y="2333.9">改革中发挥积极作用。作为本次被评选的名师</tspan><tspan x="648" y="2346.8">，更是要在自己的专业发展上有更大的提高。</tspan></text></g>
<g id="l3-s2"><path class="ul" d="M861.7 2655.3H948"/><text class="t e" x="941" y="2648.2">二、工作目标</text></g>
<g id="l3-s2-1"><path class="ul" d="M642.7 2450.3H855"/><text class="t"><tspan x="648" y="2391.6">1、热爱教育事业，立志奉献教育，牢固树立</tspan><tspan x="648" y="2404.5">以学生发展为本的理念，关心、关爱学生，做</tspan><tspan x="648" y="2417.4">学生的良师益友。工作中严格遵守教师的职业</tspan><tspan x="648" y="2430.3">道德规范，树立正确的人生观、价值观，为人</tspan><tspan x="648" y="2443.2">师表，做师德的楷模。</tspan></text></g>
<g id="l3-s2-2"><path class="ul" d="M642.7 2546.4H855"/><text class="t"><tspan x="648" y="2487.7">2、认真研究教材，正确把握教学新课标，领</tspan><tspan x="648" y="2500.6">会教学意图和教育目标。从整体上把握教材内</tspan><tspan x="648" y="2513.5">容，了解整套教材体系，熟悉本册教材，做到</tspan><tspan x="648" y="2526.4">融会贯通。抓住本套教材在整套教材中所处的</tspan><tspan x="648" y="2539.3">位置和作用，明确教学任务。</tspan></text></g>
<g id="l3-s2-3"><path class="ul" d="M642.7 2668.1H855"/><text class="t"><tspan x="648" y="2583.6">3、科学备课。小学数学看似简单，但是要真</tspan><tspan x="648" y="2596.5">正把课讲得学生都喜欢、都能掌握，却有一定</tspan><tspan x="648" y="2609.4">的难度。怎样才能让他们懂学、爱学、喜欢学</tspan><tspan x="648" y="2622.3">是备课过程中需要好好考虑和花心思的地方。</tspan><tspan x="648" y="2635.2">注重上课过程的高效率，努力利用每一分钟使</tspan><tspan x="648" y="2648.1">学生的知识得到巩固和发展也是教学过程中非</tspan><tspan x="648" y="2661">常重要的环节。</tspan></text></g>
<g id="l3-s2-4"><path class="ul" d="M642.7 2764.5H855"/><text class="t"><tspan x="648" y="2705.8">4、在教学中不断反思。通过反思，不断更新</tspan><tspan x="648" y="2718.7">教学观念，直面改革中出现的`新问题、新挑</tspan><tspan x="648" y="2731.6">战，改善教育行为，提升教学水平，同时形成</tspan><tspan x="648" y="2744.5">自己对教学现象、教学问题的独立思考和创造</tspan><tspan x="648" y="2757.4">性见解。</tspan></text></g>
<g id="l3-s2-5"><path class="ul" d="M642.7 2859.6H855"/><text class="t"><tspan x="648" y="2800.9">5、积极开展教育、教学研究工作，围绕影响</tspan><tspan x="648" y="2813.8">教学有效性的一些问题认真分析研究，力求用</tspan><tspan x="648" y="2826.7">科学的手段和方法探求教学的一些规律，达到</tspan><tspan x="648" y="2839.6">促进自身专业发展和提高教育教学能力的目的</tspan><tspan x="648" y="2852.5">。</tspan></text></g>
<g id="l3-s3"><path class="ul" d="M861.7 3119.9H948"/><text class="t e" x="941" y="3112.8">三、具体措施</text></g>
<g id="l3-s3-1"><path class="ul" d="M642.7 2995.9H855"/><text class="t"><tspan x="648" y="2898.5">1、积极开展理论学习，通过研读专著，倾听</tspan><tspan x="648" y="2911.4">专家报告和参加学校举办的各类报告会，加强</tspan><tspan x="648" y="2924.3">对当前指导教育改革与发展的理论学习；学习</tspan><tspan x="648" y="2937.2">教育教学的有关文件增强对教育政策的理解。</tspan><tspan x="648" y="2950.1">广泛阅读教育教学的报刊、杂志及专著，不光</tspan><tspan x="648" y="2963">认真钻研本学科知识，同时不断拓宽自己的知</tspan><tspan x="648" y="2975.9">识视野，使自己成为一个具有多元化知识结构</tspan><tspan x="648" y="2988.8">的人。</tspan></text></g>
<g id="l3-s3-2"><path class="ul" d="M642.7 3079.1H855"/><text class="t"><tspan x="648" y="3033.3">2、积极参加课堂教学实践研究，积极开展课</tspan><tspan x="648" y="3046.2">堂教学研究活动，以加强师生互动为研究的切</tspan><tspan x="648" y="3059.1">入点，提高教学的有效性，努力探索互动高效</tspan><tspan x="648" y="3072">的课堂教学模式。</tspan></text></g>
<g id="l3-s3-3"><path class="ul" d="M642.7 3161.9H855"/><text class="t"><tspan x="648" y="3116.1">3、工作中要善于积累，勤于思考，对自己的</tspan><tspan x="648" y="3129">教学活动进行反思，及时积累教育教学工作中</tspan><tspan x="648" y="3141.9">的成功与失败，总结经验、教训，积极撰写教</tspan><tspan x="648" y="3154.8">育科研论文。</tspan></text></g>
<g id="l3-s3-4"><path class="ul" d="M642.7 3245.2H855"/><text class="t"><tspan x="648" y="3199.4">4、根据自己多年的班主任工作经验，按照学</tspan><tspan x="648" y="3212.3">校的方案，在工作中发挥传、帮、带的作用，</tspan><tspan x="648" y="3225.2">与王金铃同志一道，相互促进，达到共同提高</tspan><tspan x="648" y="3238.1">班级管理的能力。</tspan></text></g>

<g id="watermarks">
<text class="wm" transform="translate(648 500) rotate(-30)" y="40">树图 shutu.cn</text>
<text class="wm" transform="translate(1928 500) rotate(-30)" y="40">树图 shutu.cn</text>
<text class="wm" transform="translate(648 1500) rotate(-30)" y="40">树图 shutu.cn</text>
<text class="wm" transform="translate(1928 1500) rotate(-30)" y="40">树图 shutu.cn</text>
<text class="wm" transform="translate(648 2500) rotate(-30)" y="40">树图 shutu.cn</text>
<text class="wm" transform="translate(1928 2500) rotate(-30)" y="40">树图 shutu.cn</text>
<text class="wm" transform="translate(648 3500) rotate(-30)" y="40">树图 shutu.cn</text>
<text class="wm" transform="translate(1928 3500) rotate(-30)" y="40">树图 shutu.cn</text>
</g>
</svg>
